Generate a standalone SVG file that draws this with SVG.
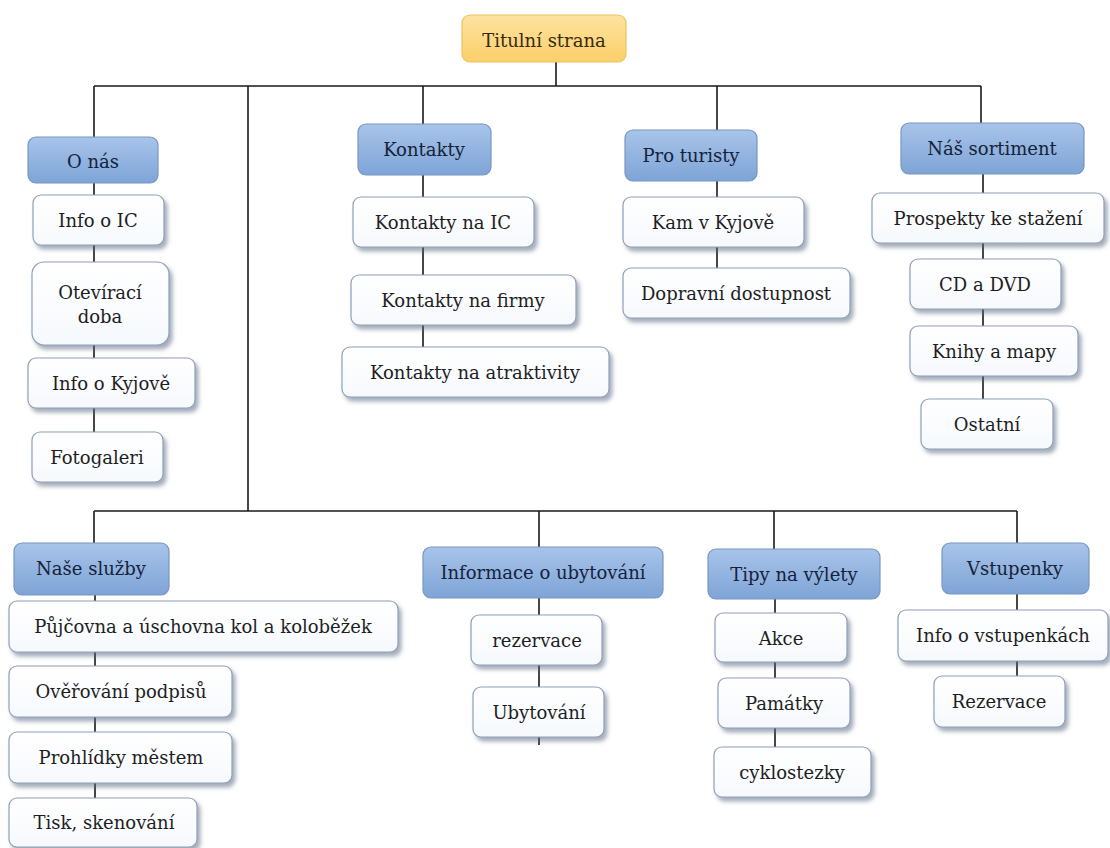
<svg xmlns="http://www.w3.org/2000/svg" width="1110" height="848" viewBox="0 0 1110 848">
<defs>
<linearGradient id="gBlue" x1="0" y1="0" x2="0" y2="1"><stop offset="0" stop-color="#a8c4ea"/><stop offset="1" stop-color="#7ea4d6"/></linearGradient>
<linearGradient id="gGold" x1="0" y1="0" x2="0" y2="1"><stop offset="0" stop-color="#fde3a0"/><stop offset="1" stop-color="#fbcf6a"/></linearGradient>
<linearGradient id="gWhite" x1="0" y1="0" x2="0" y2="1"><stop offset="0" stop-color="#ffffff"/><stop offset="1" stop-color="#f6f9fd"/></linearGradient>
<filter id="sh" x="-10%" y="-20%" width="125%" height="160%"><feDropShadow dx="3" dy="4" stdDeviation="2" flood-color="#5a6a80" flood-opacity="0.55"/></filter>
</defs>
<style>
.hd{fill:url(#gBlue);stroke:#7896c4;stroke-width:1.2}
.tt{fill:url(#gGold);stroke:#efc25c;stroke-width:1.2}
.lf{fill:url(#gWhite);stroke:#8ea0b8;stroke-width:1.2;filter:url(#sh)}
text{font-family:'DejaVu Serif',serif;font-size:18px;text-anchor:middle;dominant-baseline:central;fill:#1e1e1e}
.hdt{fill:#14223a}
.ttt{fill:#3a2a0c}
.cn{stroke:#1a1a1a;stroke-width:1.6;fill:none}
</style>
<rect width="1110" height="848" fill="#ffffff"/>
<g id="connectors" class="cn">
<path d="M556 62V86M94 86H981M94 86V137M248 86V511M423 86V124M717 86V130M981 86V123"/>
<path d="M94 511H1017M94 511V543M539 511V547M774 511V549M1017 511V543"/>
<path d="M94 183V432M423 175V347M717 181V268M983 174V399"/>
<path d="M95 595V798M539 598V745M775 599V747M1017 594V676"/>
</g>
<g id="n-titulni"><rect class="tt" x="462" y="15" width="164" height="47" rx="8"/><text class="ttt" x="544" y="40">Titulní strana</text></g>
<g id="n-onas"><rect class="hd" x="28" y="137" width="130" height="46" rx="8"/><text class="hdt" x="93" y="161">O nás</text></g>
<g id="n-infoic"><rect class="lf" x="33" y="195" width="131" height="50" rx="8"/><text x="98" y="220">Info o IC</text></g>
<g id="n-oteviraci"><rect class="lf" x="32" y="262" width="137" height="83" rx="12"/><text x="100" y="292">Otevírací</text><text x="100" y="316">doba</text></g>
<g id="n-infokyjov"><rect class="lf" x="28" y="358" width="167" height="50" rx="8"/><text x="111" y="383">Info o Kyjově</text></g>
<g id="n-foto"><rect class="lf" x="32" y="432" width="131" height="50" rx="8"/><text x="97" y="457">Fotogaleri</text></g>
<g id="n-kontakty"><rect class="hd" x="358" y="124" width="133" height="51" rx="8"/><text class="hdt" x="424" y="149">Kontakty</text></g>
<g id="n-kontic"><rect class="lf" x="353" y="197" width="181" height="50" rx="8"/><text x="443" y="222">Kontakty na IC</text></g>
<g id="n-kontfirmy"><rect class="lf" x="351" y="275" width="225" height="50" rx="8"/><text x="463" y="300">Kontakty na firmy</text></g>
<g id="n-kontatr"><rect class="lf" x="342" y="347" width="267" height="50" rx="8"/><text x="475" y="372">Kontakty na atraktivity</text></g>
<g id="n-proturisty"><rect class="hd" x="625" y="130" width="132" height="51" rx="8"/><text class="hdt" x="691" y="155">Pro turisty</text></g>
<g id="n-kam"><rect class="lf" x="623" y="197" width="181" height="50" rx="8"/><text x="713" y="222">Kam v Kyjově</text></g>
<g id="n-doprava"><rect class="lf" x="623" y="268" width="227" height="50" rx="8"/><text x="736" y="293">Dopravní dostupnost</text></g>
<g id="n-sortiment"><rect class="hd" x="901" y="123" width="183" height="51" rx="8"/><text class="hdt" x="992" y="148">Náš sortiment</text></g>
<g id="n-prospekty"><rect class="lf" x="872" y="193" width="232" height="50" rx="8"/><text x="988" y="218">Prospekty ke stažení</text></g>
<g id="n-cddvd"><rect class="lf" x="910" y="259" width="151" height="50" rx="8"/><text x="985" y="284">CD a DVD</text></g>
<g id="n-knihy"><rect class="lf" x="910" y="326" width="168" height="50" rx="8"/><text x="994" y="351">Knihy a mapy</text></g>
<g id="n-ostatni"><rect class="lf" x="921" y="399" width="132" height="50" rx="8"/><text x="987" y="424">Ostatní</text></g>
<g id="n-sluzby"><rect class="hd" x="14" y="543" width="155" height="52" rx="8"/><text class="hdt" x="91" y="568">Naše služby</text></g>
<g id="n-pujcovna"><rect class="lf" x="9" y="601" width="389" height="51" rx="8"/><text x="203" y="626">Půjčovna a úschovna kol a koloběžek</text></g>
<g id="n-overovani"><rect class="lf" x="9" y="666" width="223" height="51" rx="8"/><text x="121" y="691">Ověřování podpisů</text></g>
<g id="n-prohlidky"><rect class="lf" x="9" y="732" width="223" height="51" rx="8"/><text x="121" y="757">Prohlídky městem</text></g>
<g id="n-tisk"><rect class="lf" x="9" y="798" width="188" height="49" rx="8"/><text x="104" y="822">Tisk, skenování</text></g>
<g id="n-ubytovani-info"><rect class="hd" x="423" y="547" width="240" height="51" rx="8"/><text class="hdt" x="543" y="572">Informace o ubytování</text></g>
<g id="n-rezervace1"><rect class="lf" x="471" y="615" width="131" height="50" rx="8"/><text x="537" y="640">rezervace</text></g>
<g id="n-ubytovani"><rect class="lf" x="473" y="687" width="131" height="50" rx="8"/><text x="539" y="712">Ubytování</text></g>
<g id="n-tipy"><rect class="hd" x="708" y="549" width="172" height="50" rx="8"/><text class="hdt" x="794" y="574">Tipy na výlety</text></g>
<g id="n-akce"><rect class="lf" x="715" y="613" width="132" height="49" rx="8"/><text x="781" y="638">Akce</text></g>
<g id="n-pamatky"><rect class="lf" x="718" y="678" width="132" height="50" rx="8"/><text x="784" y="703">Památky</text></g>
<g id="n-cyklo"><rect class="lf" x="714" y="747" width="157" height="50" rx="8"/><text x="792" y="772">cyklostezky</text></g>
<g id="n-vstupenky"><rect class="hd" x="942" y="543" width="147" height="51" rx="8"/><text class="hdt" x="1015" y="568">Vstupenky</text></g>
<g id="n-infovst"><rect class="lf" x="898" y="610" width="210" height="51" rx="8"/><text x="1003" y="635">Info o vstupenkách</text></g>
<g id="n-rezervace2"><rect class="lf" x="934" y="676" width="131" height="51" rx="8"/><text x="999" y="701">Rezervace</text></g>
</svg>
